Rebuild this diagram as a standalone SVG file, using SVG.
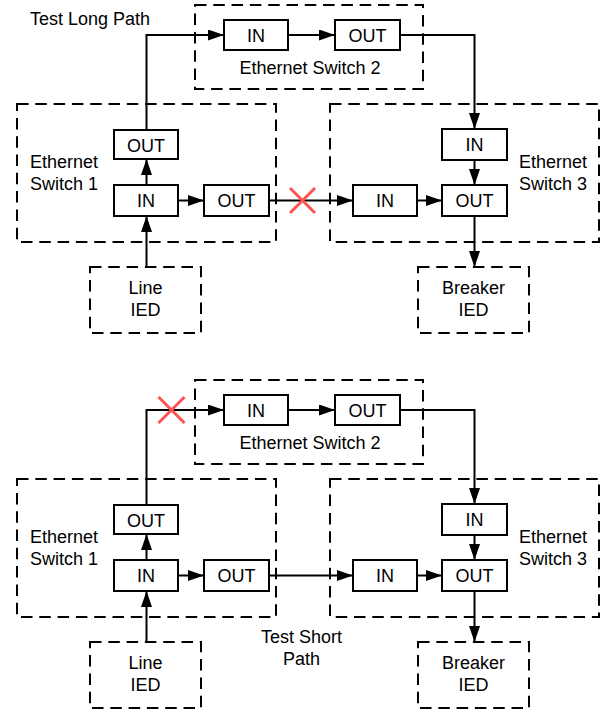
<svg xmlns="http://www.w3.org/2000/svg" width="610" height="712" viewBox="0 0 610 712">
<defs>
<style>
text{font-family:"Liberation Sans",Arial,sans-serif;font-size:18px;fill:#000}
.c{text-anchor:middle}
.port{fill:#fff;stroke:#000;stroke-width:2}
.dash{fill:none;stroke:#000;stroke-width:2;stroke-dasharray:11.5 6.8}
.conn path{fill:none;stroke:#000;stroke-width:2}
.arr{marker-end:url(#ah)}
.x{stroke:#ff5252;stroke-width:3;fill:none}
</style>
<marker id="ah" markerUnits="userSpaceOnUse" markerWidth="16" markerHeight="11" refX="16" refY="5.5" orient="auto">
<path d="M0,0 L16,5.5 L0,11 z" fill="#000"/>
</marker>
</defs>
<rect width="610" height="712" fill="#fff"/>

<!-- ===== Top diagram: Test Long Path ===== -->
<text x="30" y="25">Test Long Path</text>
<g id="sw2a">
<rect class="dash" x="195" y="5" width="228" height="84"/>
<text class="c" x="310" y="74">Ethernet Switch 2</text>
<rect class="port" x="224" y="20" width="64" height="30"/><text class="c" x="256" y="41.5">IN</text>
<rect class="port" x="335" y="20" width="65" height="30"/><text class="c" x="367.5" y="41.5">OUT</text>
</g>
<g id="sw1a">
<rect class="dash" x="17" y="104" width="259" height="138"/>
<text x="30" y="168">Ethernet</text><text x="30" y="190">Switch 1</text>
<rect class="port" x="114" y="130" width="64" height="29"/><text class="c" x="146" y="151.5">OUT</text>
<rect class="port" x="114" y="185" width="64" height="31"/><text class="c" x="146" y="207">IN</text>
<rect class="port" x="204" y="185" width="65" height="31"/><text class="c" x="236.5" y="207">OUT</text>
</g>
<g id="sw3a">
<rect class="dash" x="330" y="104" width="269" height="138"/>
<text x="519" y="168">Ethernet</text><text x="519" y="190">Switch 3</text>
<rect class="port" x="442" y="129" width="65" height="31"/><text class="c" x="474.5" y="151">IN</text>
<rect class="port" x="353" y="185" width="64" height="31"/><text class="c" x="385" y="207">IN</text>
<rect class="port" x="442" y="185" width="65" height="31"/><text class="c" x="474.5" y="207">OUT</text>
</g>
<g id="lineieda">
<rect class="dash" x="90" y="267" width="111" height="66"/>
<text class="c" x="145.5" y="294">Line</text><text class="c" x="145.5" y="316">IED</text>
</g>
<g id="brkieda">
<rect class="dash" x="418" y="267" width="111" height="66"/>
<text class="c" x="473.5" y="294">Breaker</text><text class="c" x="473.5" y="316">IED</text>
</g>
<g id="conna" class="conn">
<path class="arr" d="M146.5,130 V35 H224"/>
<path class="arr" d="M288,35 H335"/>
<path class="arr" d="M400,35 H474.5 V129"/>
<path class="arr" d="M474.5,160 V185"/>
<path class="arr" d="M474.5,216 V267"/>
<path class="arr" d="M146.5,267 V216"/>
<path class="arr" d="M146.5,185 V159"/>
<path class="arr" d="M178,200.5 H204"/>
<path class="arr" d="M269,200.5 H353"/>
<path class="arr" d="M417,200.5 H442"/>
</g>
<g id="faila">
<path class="x" d="M290,188 L315,213 M315,188 L290,213"/>
</g>

<!-- ===== Bottom diagram: Test Short Path ===== -->
<g transform="translate(0,375)">
<g id="sw2b">
<rect class="dash" x="195" y="5" width="228" height="84"/>
<text class="c" x="310" y="74">Ethernet Switch 2</text>
<rect class="port" x="224" y="20" width="64" height="30"/><text class="c" x="256" y="41.5">IN</text>
<rect class="port" x="335" y="20" width="65" height="30"/><text class="c" x="367.5" y="41.5">OUT</text>
</g>
<g id="sw1b">
<rect class="dash" x="17" y="104" width="259" height="138"/>
<text x="30" y="168">Ethernet</text><text x="30" y="190">Switch 1</text>
<rect class="port" x="114" y="130" width="64" height="29"/><text class="c" x="146" y="151.5">OUT</text>
<rect class="port" x="114" y="185" width="64" height="31"/><text class="c" x="146" y="207">IN</text>
<rect class="port" x="204" y="185" width="65" height="31"/><text class="c" x="236.5" y="207">OUT</text>
</g>
<g id="sw3b">
<rect class="dash" x="330" y="104" width="269" height="138"/>
<text x="519" y="168">Ethernet</text><text x="519" y="190">Switch 3</text>
<rect class="port" x="442" y="129" width="65" height="31"/><text class="c" x="474.5" y="151">IN</text>
<rect class="port" x="353" y="185" width="64" height="31"/><text class="c" x="385" y="207">IN</text>
<rect class="port" x="442" y="185" width="65" height="31"/><text class="c" x="474.5" y="207">OUT</text>
</g>
<g id="lineiedb">
<rect class="dash" x="90" y="267" width="111" height="66"/>
<text class="c" x="145.5" y="294">Line</text><text class="c" x="145.5" y="316">IED</text>
</g>
<g id="brkiedb">
<rect class="dash" x="418" y="267" width="111" height="66"/>
<text class="c" x="473.5" y="294">Breaker</text><text class="c" x="473.5" y="316">IED</text>
</g>
<text class="c" x="301.5" y="268">Test Short</text>
<text class="c" x="301.5" y="290">Path</text>
<g id="connb" class="conn">
<path class="arr" d="M146.5,130 V35 H224"/>
<path class="arr" d="M288,35 H335"/>
<path class="arr" d="M400,35 H474.5 V129"/>
<path class="arr" d="M474.5,160 V185"/>
<path class="arr" d="M474.5,216 V267"/>
<path class="arr" d="M146.5,267 V216"/>
<path class="arr" d="M146.5,185 V159"/>
<path class="arr" d="M178,200.5 H204"/>
<path class="arr" d="M269,200.5 H353"/>
<path class="arr" d="M417,200.5 H442"/>
</g>
<g id="failb">
<path class="x" d="M158.5,22 L184.5,48 M184.5,22 L158.5,48"/>
</g>
</g>
</svg>
